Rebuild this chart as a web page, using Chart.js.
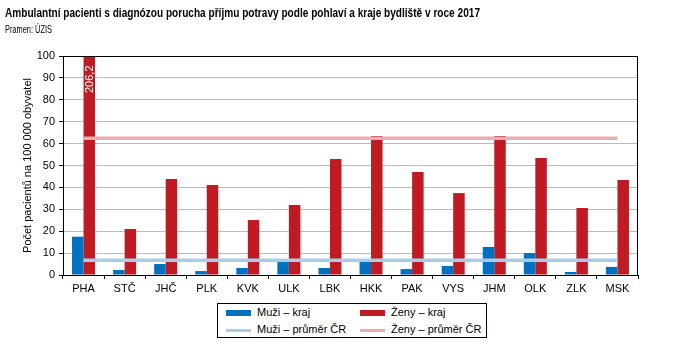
<!DOCTYPE html>
<html><head><meta charset="utf-8">
<script src="https://cdn.jsdelivr.net/npm/chart.js@4"></script>
<style>
body{margin:0;background:#fff;}
#wrap{position:relative;width:685px;height:359px;overflow:hidden;font-family:"Liberation Sans",Arial,sans-serif;color:#000;}
#c{position:absolute;left:0;top:0;}
#title{position:absolute;left:5px;top:6px;font-weight:bold;font-size:12.5px;line-height:14px;font-family:"Liberation Sans",Arial,sans-serif;white-space:nowrap;transform-origin:0 0;}
#sub{position:absolute;left:5px;top:23px;font-size:10.5px;line-height:13px;font-family:"Liberation Sans",Arial,sans-serif;white-space:nowrap;transform-origin:0 0;}
#legend{position:absolute;left:217px;top:303px;width:268px;height:33px;border:1px solid #000;background:#fff;}
.li{position:absolute;font-size:11px;line-height:13px;white-space:nowrap;font-family:"Liberation Sans",Arial,sans-serif;}
.sym{position:absolute;width:25px;}
</style></head>
<body><div id="wrap">
<canvas id="c" width="685" height="359"></canvas>
<div id="title">Ambulantní pacienti s diagnózou porucha příjmu potravy podle pohlaví a kraje bydliště v roce 2017</div>
<div id="sub">Pramen: ÚZIS</div>
<div id="legend"></div>
</div>
<script>
const categories = ['PHA','STČ','JHČ','PLK','KVK','ULK','LBK','HKK','PAK','VYS','JHM','OLK','ZLK','MSK'];
const menRegion   = [17.5, 2.3, 5.0, 1.8, 3.2, 6.3, 3.2, 6.5, 2.7, 4.1, 12.8, 10.0, 1.4, 3.7];
const womenRegion = [206.2, 21.0, 43.8, 41.1, 25.1, 32.0, 53.0, 63.5, 47.0, 37.4, 63.5, 53.4, 30.6, 43.4];
const menAvg   = [6.7, 6.7, 6.7, 6.7, 6.7, 6.7, 6.7, 6.7, 6.7, 6.7, 6.7, 6.7, 6.7, 6.7];
const womenAvg = [62.4, 62.4, 62.4, 62.4, 62.4, 62.4, 62.4, 62.4, 62.4, 62.4, 62.4, 62.4, 62.4, 62.4];
const yTicks = [0,10,20,30,40,50,60,70,80,90,100];
const seriesNames = ['Muži – kraj','Ženy – kraj','Muži – průměr ČR','Ženy – průměr ČR'];

const C_BLUE='#0070c0', C_RED='#c01b23', C_LBLUE='#a9cde9', C_PINK='#e8aeb3';
const Y_MAX = yTicks[yTicks.length-1];
const FONT = '"Liberation Sans", Arial, sans-serif';

const boxPlugin = {
  id:'box',
  afterDatasetsDraw(chart){
    const {ctx, chartArea:a} = chart;
    const meta = chart.getDatasetMeta(1);
    ctx.save();
    ctx.font = '11px ' + FONT;
    ctx.fillStyle = '#fff';
    ctx.textBaseline = 'middle';
    ctx.textAlign = 'left';
    womenRegion.forEach((v,i)=>{
      if (v > Y_MAX){
        const el = meta.data[i];
        ctx.save();
        ctx.translate(el.x+0.5, a.top+37);
        ctx.rotate(-Math.PI/2);
        ctx.fillText(String(v).replace('.',','),0,0);
        ctx.restore();
      }
    });
    ctx.restore();
  },
  afterDraw(chart){
    const {ctx, chartArea:a} = chart;
    ctx.save();
    ctx.strokeStyle='#000'; ctx.lineWidth=1;
    ctx.strokeRect(Math.round(a.left)+0.5, Math.round(a.top)+0.5, Math.round(a.right-a.left)-1, Math.round(a.bottom-a.top));
    ctx.restore();
  }
};

new Chart(document.getElementById('c'), {
  type:'bar',
  data:{
    labels: categories,
    datasets:[
      {type:'bar', label:seriesNames[0], data:menRegion, backgroundColor:C_BLUE, order:2, categoryPercentage:0.56, barPercentage:1.0},
      {type:'bar', label:seriesNames[1], data:womenRegion, backgroundColor:C_RED, order:2, categoryPercentage:0.56, barPercentage:1.0},
      {type:'line', label:seriesNames[2], data:menAvg, borderColor:C_LBLUE, borderWidth:3.5, pointRadius:0, order:1, borderCapStyle:'butt'},
      {type:'line', label:seriesNames[3], data:womenAvg, borderColor:C_PINK, borderWidth:3.5, pointRadius:0, order:1, borderCapStyle:'butt'}
    ]
  },
  options:{
    responsive:false, animation:false, devicePixelRatio:1,
    layout:{padding:{top:56,right:47,left:0,bottom:0}},
    plugins:{legend:{display:false}, tooltip:{enabled:false}, title:{display:false}},
    scales:{
      x:{
        grid:{display:true, drawOnChartArea:false, drawTicks:true, tickLength:4, tickColor:'#000', offset:true},
        border:{display:true, color:'#000'},
        ticks:{color:'#000', font:{size:11, family:FONT}, padding:3, maxRotation:0, autoSkip:false},
        afterFit(s){ s.height = 84; }
      },
      y:{
        min:0, max:Y_MAX,
        afterBuildTicks(s){ s.ticks = yTicks.map(v=>({value:v})); },
        grid:{color:'#bbbbbb', tickColor:'#000', tickLength:4, drawTicks:true},
        border:{display:true, color:'#000'},
        ticks:{color:'#000', font:{size:11, family:FONT}, padding:4},
        title:{display:true, text:'Počet pacientů na 100 000 obyvatel', color:'#000', font:{size:11, family:FONT}, padding:{top:21,bottom:0}},
        afterFit(s){ s.width = 63; }
      }
    }
  },
  plugins:[boxPlugin]
});

// fit narrow title text widths
function fitWidth(id, target){
  const el = document.getElementById(id);
  const w = el.getBoundingClientRect().width;
  if (w > 0) el.style.transform = 'scaleX(' + (target / w) + ')';
}
fitWidth('title', 475);
fitWidth('sub', 47);

// HTML legend
const leg = document.getElementById('legend');
const items = [
  {name:seriesNames[0], color:C_BLUE, h:6, x:8, y:9},
  {name:seriesNames[1], color:C_RED, h:6, x:142, y:9},
  {name:seriesNames[2], color:C_LBLUE, h:3, x:8, y:26},
  {name:seriesNames[3], color:C_PINK, h:3, x:142, y:26}
];
items.forEach(it=>{
  const s=document.createElement('div'); s.className='sym';
  s.style.left=it.x+'px'; s.style.top=(it.y-it.h/2)+'px'; s.style.height=it.h+'px'; s.style.background=it.color;
  leg.appendChild(s);
  const t=document.createElement('div'); t.className='li';
  t.style.left=(it.x+31)+'px'; t.style.top=(it.y-7)+'px'; t.textContent=it.name;
  leg.appendChild(t);
});
</script>
</body></html>
